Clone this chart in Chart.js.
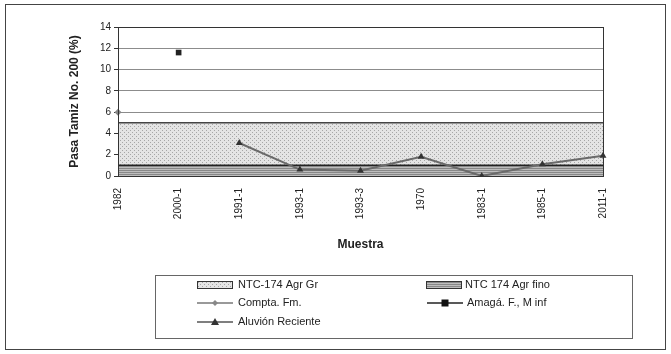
<!DOCTYPE html>
<html>
<head>
<meta charset="utf-8">
<script src="https://cdn.jsdelivr.net/npm/chart.js@4.4.1/dist/chart.umd.min.js"></script>
<style>
  html, body { margin: 0; padding: 0; background: #fff; }
  #wrap { width: 671px; height: 354px; position: relative; }
</style>
</head>
<body>
<div id="wrap"><canvas id="chart" width="671" height="354"></canvas></div>
<script>
// --- data ---
const muestras = ['1982', '2000-1', '1991-1', '1993-1', '1993-3', '1970', '1983-1', '1985-1', '2011-1'];
const ntcGrueso = [5, 5, 5, 5, 5, 5, 5, 5, 5];
const ntcFino = [1, 1, 1, 1, 1, 1, 1, 1, 1];
const comptaFm = [6, null, null, null, null, null, null, null, null];
const amagaInf = [null, 11.6, null, null, null, null, null, null, null];
const aluvionReciente = [null, null, 3.1, 0.6, 0.5, 1.8, 0, 1.1, 1.9];
const yTicks = [0, 2, 4, 6, 8, 10, 12, 14];

const FONT = 'Liberation Sans, Arial, sans-serif';

// small tiled fills to imitate the excel hatch patterns
function makePattern(bg, fg, kind) {
    const c = document.createElement('canvas');
    c.width = 4; c.height = 4;
    const g = c.getContext('2d');
    g.fillStyle = bg;
    g.fillRect(0, 0, 4, 4);
    g.fillStyle = fg;
    if (kind === 'dots') {
        g.fillRect(0, 0, 1, 1);
        g.fillRect(2, 2, 1, 1);
    } else {
        g.fillRect(0, 0, 4, 1);
        g.fillRect(0, 2, 4, 1);
    }
    return g.createPattern(c, 'repeat');
}
const patGr = makePattern('#e4e4e4', '#a6a6a6', 'dots');
const patFino = makePattern('#bdbdbd', '#888888', 'lines');

// frame, plot border and the boxed legend
const decorPlugin = {
    id: 'decor',
    afterDatasetsDraw(chart) {
        const { ctx, chartArea: a } = chart;
        ctx.save();
        ctx.strokeStyle = '#333';
        ctx.lineWidth = 1;
        ctx.strokeRect(a.left + 0.5, a.top + 0.5, a.right - a.left, a.bottom - a.top);
        ctx.restore();
    },
    afterDraw(chart) {
        const ctx = chart.ctx;
        ctx.save();
        // outer frame
        ctx.strokeStyle = '#444';
        ctx.lineWidth = 1;
        ctx.strokeRect(5.5, 4.5, 660, 345);
        // legend box
        ctx.strokeStyle = '#666';
        ctx.strokeRect(155.5, 275.5, 477, 63);

        ctx.font = '11px ' + FONT;
        ctx.textBaseline = 'middle';

        const swatch = (x, y, fill, edge) => {
            ctx.fillStyle = fill;
            ctx.fillRect(x, y - 4, 36, 8);
            ctx.strokeStyle = edge;
            ctx.lineWidth = 1;
            ctx.strokeRect(x + 0.5, y - 3.5, 35, 7);
        };
        const lineItem = (x, y, color, mcolor, style) => {
            ctx.strokeStyle = color;
            ctx.lineWidth = 1.5;
            ctx.beginPath();
            ctx.moveTo(x, y);
            ctx.lineTo(x + 36, y);
            ctx.stroke();
            ctx.fillStyle = mcolor;
            ctx.beginPath();
            const cx = x + 18;
            if (style === 'diamond') {
                ctx.moveTo(cx, y - 3); ctx.lineTo(cx + 3, y); ctx.lineTo(cx, y + 3); ctx.lineTo(cx - 3, y);
            } else if (style === 'square') {
                ctx.rect(cx - 3.5, y - 3.5, 7, 7);
            } else {
                ctx.moveTo(cx, y - 4); ctx.lineTo(cx + 4, y + 3); ctx.lineTo(cx - 4, y + 3);
            }
            ctx.closePath();
            ctx.fill();
        };

        swatch(197, 285, patGr, '#333');
        swatch(426, 285, patFino, '#333');
        lineItem(197, 303, '#777', '#888', 'diamond');
        lineItem(427, 303, '#222', '#111', 'square');
        lineItem(197, 322, '#555', '#333', 'triangle');

        ctx.fillStyle = '#222';
        ctx.fillText('NTC-174 Agr Gr', 238, 285);
        ctx.fillText('NTC 174 Agr fino', 465, 285);
        ctx.fillText('Compta. Fm.', 238, 303);
        ctx.fillText('Amagá. F., M inf', 467, 303);
        ctx.fillText('Aluvión Reciente', 238, 322);
        ctx.restore();
    }
};

new Chart(document.getElementById('chart'), {
    type: 'line',
    data: {
        labels: muestras,
        datasets: [
            {
                label: 'Compta. Fm.',
                data: comptaFm,
                borderColor: '#777',
                backgroundColor: '#888',
                pointStyle: 'rectRot',
                pointRadius: 3.5,
                pointBorderWidth: 0,
                order: 0
            },
            {
                label: 'Amagá. F., M inf',
                data: amagaInf,
                borderColor: '#222',
                backgroundColor: '#222',
                pointStyle: 'rect',
                pointRadius: 4,
                pointBorderWidth: 0,
                order: 0
            },
            {
                label: 'Aluvión Reciente',
                data: aluvionReciente,
                borderColor: '#6a6a6a',
                borderWidth: 2,
                backgroundColor: '#333',
                pointStyle: 'triangle',
                pointRadius: 4,
                pointBorderWidth: 0,
                order: 0
            },
            {
                label: 'NTC 174 Agr fino',
                data: ntcFino,
                borderColor: '#222',
                borderWidth: 1.5,
                backgroundColor: patFino,
                fill: 'origin',
                pointRadius: 0,
                order: 1
            },
            {
                label: 'NTC-174 Agr Gr',
                data: ntcGrueso,
                borderColor: '#444',
                borderWidth: 1.5,
                backgroundColor: patGr,
                fill: 'origin',
                pointRadius: 0,
                order: 2
            }
        ]
    },
    options: {
        responsive: false,
        animation: false,
        layout: { padding: { left: 60, top: 27, right: 68, bottom: 98 } },
        plugins: {
            legend: { display: false },
            tooltip: { enabled: false }
        },
        scales: {
            x: {
                grid: { display: false },
                border: { display: true, color: '#333' },
                ticks: {
                    color: '#222',
                    font: { family: FONT, size: 10 },
                    minRotation: 90,
                    maxRotation: 90,
                    autoSkip: false,
                    padding: 4
                },
                title: {
                    display: true,
                    text: 'Muestra',
                    color: '#222',
                    font: { family: FONT, size: 12, weight: 'bold' },
                    padding: { top: 4, bottom: 4 }
                },
                afterFit(s) { s.height = 80; }
            },
            y: {
                min: 0,
                max: 14,
                afterBuildTicks(s) { s.ticks = yTicks.map(v => ({ value: v })); },
                grid: { color: '#8c8c8c', tickLength: 4, tickColor: '#333' },
                border: { display: true, color: '#333' },
                ticks: {
                    color: '#222',
                    font: { family: FONT, size: 10 },
                    padding: 3
                },
                title: {
                    display: true,
                    text: 'Pasa Tamiz No. 200 (%)',
                    color: '#222',
                    font: { family: FONT, size: 12, weight: 'bold' },
                    padding: { top: 7, bottom: 2 }
                },
                afterFit(s) { s.width = 58; }
            }
        }
    },
    plugins: [decorPlugin]
});
</script>
</body>
</html>
